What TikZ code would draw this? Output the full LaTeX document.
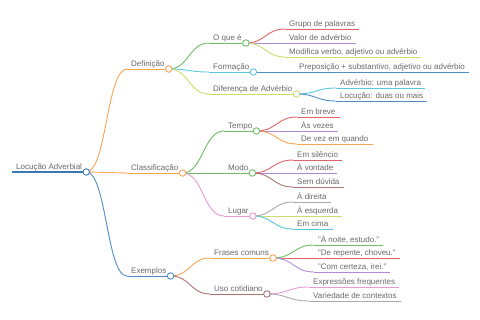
\documentclass[tikz,border=0pt]{standalone}
\usepackage{fontspec}
\setmainfont{Liberation Sans}
\usetikzlibrary{calc}
\usepackage{xcolor}

\definecolor{rootblue}{RGB}{60,120,180}
\definecolor{mmblue}{RGB}{80,140,200}
\definecolor{mmorange}{RGB}{247,165,85}
\definecolor{mmgreen}{RGB}{110,190,100}
\definecolor{mmcyan}{RGB}{90,200,220}
\definecolor{mmlime}{RGB}{205,220,110}
\definecolor{mmred}{RGB}{222,100,105}
\definecolor{mmpurple}{RGB}{175,140,220}
\definecolor{mmpink}{RGB}{232,155,212}
\definecolor{mmbrown}{RGB}{170,115,115}
\definecolor{mmgray}{RGB}{170,170,170}
\definecolor{textgray}{RGB}{105,105,105}

% name, parent, colour, position, text
\newcommand{\mmtopic}[5]{%
  \node[topic] (#1) at (#4) {#5};
  \draw[branch, #3] (#1.south west) -- (#1.south east);
  \draw[branch, #3] let \p1 = (#2.south east), \p2 = (#1.south west) in
    (\p1) .. controls ({0.5*(\x1+\x2)}, \y1) and ({0.5*(\x1+\x2)}, \y2) .. (\p2);
}

\begin{document}
\begin{tikzpicture}[
    x=1pt, y=-1pt,
    topic/.style = {
        anchor = south west, inner xsep = 4pt, inner ysep = 1pt,
        text height = 5.8pt, text depth = 1.6pt,
        font = \fontsize{8}{9}\selectfont, text = textgray
    },
    knot/.style = {
        circle, fill = white, line width = 0.9pt,
        inner sep = 0pt, minimum size = 6.5pt
    },
    branch/.style = {line width = 0.9pt}
]
\useasboundingbox (0,0) rectangle (480,320);

% --- Root ---
\node[topic] (root) at (12,172) {Locução Adverbial};
\draw[line width=1.3pt, rootblue] (root.south west) -- (root.south east);

% --- Level 1 ---
\mmtopic{def}{root}{mmorange}{127,69}{Definição}
\mmtopic{cls}{root}{mmorange}{127,173}{Classificação}
\mmtopic{exe}{root}{mmblue}{127,276}{Exemplos}

% --- Definição ---
\mmtopic{oque}{def}{mmgreen}{209,43}{O que é}
\mmtopic{form}{def}{mmcyan}{209,72}{Formação}
\mmtopic{dif}{def}{mmlime}{209,94}{Diferença de Advérbio}

\mmtopic{grupo}{oque}{mmred}{285,29}{Grupo de palavras}
\mmtopic{valor}{oque}{mmpurple}{285,43}{Valor de advérbio}
\mmtopic{modif}{oque}{mmlime}{285,57}{Modifica verbo, adjetivo ou advérbio}

\mmtopic{prep}{form}{mmblue}{295,72}{Preposição + substantivo, adjetivo ou advérbio}

\mmtopic{advp}{dif}{mmcyan}{336,88}{Advérbio: uma palavra}
\mmtopic{locd}{dif}{mmblue}{336,101}{Locução: duas ou mais}

% --- Classificação ---
\mmtopic{tempo}{cls}{mmgreen}{224,131}{Tempo}
\mmtopic{modo}{cls}{mmgreen}{224,173}{Modo}
\mmtopic{lugar}{cls}{mmpink}{224,216}{Lugar}

\mmtopic{breve}{tempo}{mmred}{297,117}{Em breve}
\mmtopic{vezes}{tempo}{mmpurple}{297,131}{Às vezes}
\mmtopic{quando}{tempo}{mmorange}{297,144}{De vez em quando}

\mmtopic{silencio}{modo}{mmred}{293,160}{Em silêncio}
\mmtopic{vontade}{modo}{mmpurple}{293,173}{À vontade}
\mmtopic{duvida}{modo}{mmbrown}{293,187}{Sem dúvida}

\mmtopic{direita}{lugar}{mmgray}{293,202}{À direita}
\mmtopic{esquerda}{lugar}{mmlime}{293,216}{À esquerda}
\mmtopic{cima}{lugar}{mmcyan}{293,229}{Em cima}

% --- Exemplos ---
\mmtopic{frases}{exe}{mmorange}{210,258}{Frases comuns}
\mmtopic{uso}{exe}{mmbrown}{210,294}{Uso cotidiano}

\mmtopic{noite}{frases}{mmgreen}{314,245}{"À noite, estudo."}
\mmtopic{repente}{frases}{mmred}{314,258}{"De repente, choveu."}
\mmtopic{certeza}{frases}{mmpurple}{314,272}{"Com certeza, irei."}

\mmtopic{expr}{uso}{mmpink}{309,287}{Expressões frequentes}
\mmtopic{varied}{uso}{mmgray}{309,301}{Variedade de contextos}

% --- Knots on top ---
\foreach \n/\c in {root/rootblue, def/mmorange, cls/mmorange, exe/mmblue,
    oque/mmgreen, form/mmcyan, dif/mmlime, tempo/mmgreen, modo/mmgreen,
    lugar/mmpink, frases/mmorange, uso/mmbrown}
  \node[knot, draw=\c] (\n-knot) at (\n.south east) {};

\end{tikzpicture}
\end{document}
